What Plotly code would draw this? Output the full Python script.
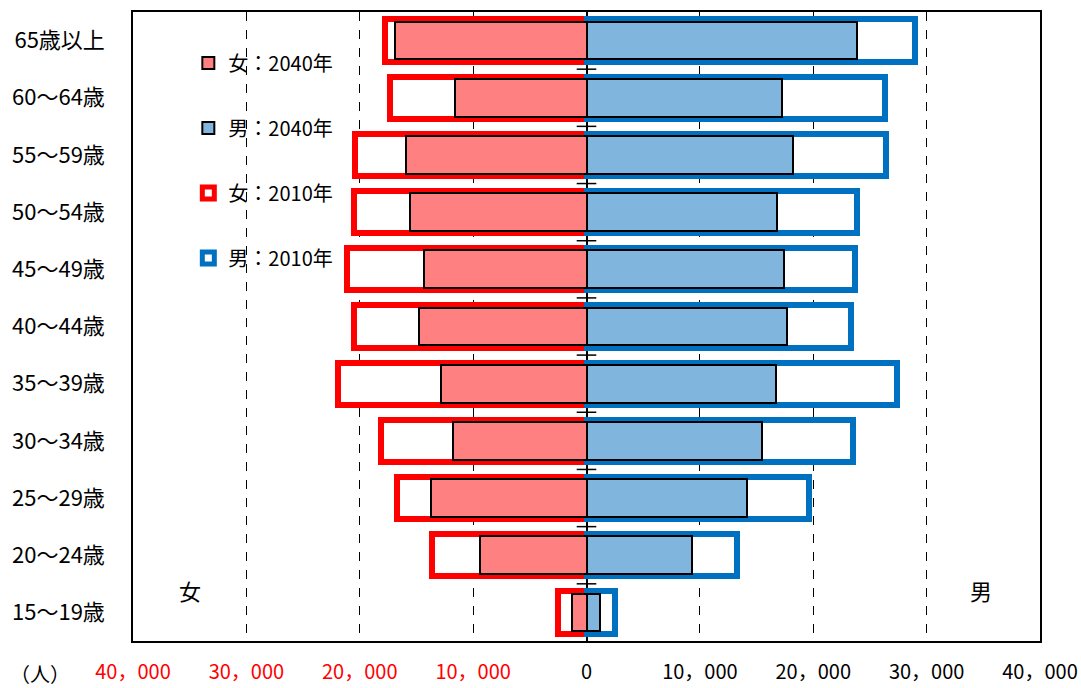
import plotly.graph_objects as go

ages = ["65歳以上", "60～64歳", "55～59歳", "50～54歳", "45～49歳", "40～44歳",
        "35～39歳", "30～34歳", "25～29歳", "20～24歳", "15～19歳"]
female_2010 = [17800, 17300, 20400, 20500, 21100, 20500, 21900, 18100, 16700, 13600, 2500]
female_2040 = [16900, 11600, 15900, 15600, 14300, 14800, 12800, 11800, 13700, 9400, 1300]
male_2010 = [29000, 26300, 26400, 23900, 23700, 23300, 27400, 23500, 19600, 13300, 2500]
male_2040 = [23900, 17200, 18200, 16800, 17400, 17700, 16700, 15500, 14200, 9300, 1200]
tick_vals = [-40000, -30000, -20000, -10000, 0, 10000, 20000, 30000, 40000]

ypos = list(range(len(ages)))
FONT = "Noto Sans CJK JP"

def fmt(v):
    s = f"{abs(v):,}".replace(",", "，")
    if v < 0:
        return f'<span style="color:#FF0000">{s}</span>'
    return s

fig = go.Figure()
fig.add_trace(go.Bar(y=ypos, x=[-v for v in female_2010], orientation="h", width=0.74,
                     marker=dict(color="white", line=dict(color="#FF0000", width=6)),
                     name="女：2010年", legendgroup="c", legendrank=3))
fig.add_trace(go.Bar(y=ypos, x=male_2010, orientation="h", width=0.74,
                     marker=dict(color="white", line=dict(color="#0070C0", width=6)),
                     name="男：2010年", legendgroup="d", legendrank=4))
fig.add_trace(go.Bar(y=ypos, x=[-v for v in female_2040], orientation="h", width=0.66,
                     marker=dict(color="#FF8080", line=dict(color="black", width=2)),
                     name="女：2040年", legendgroup="a", legendrank=1))
fig.add_trace(go.Bar(y=ypos, x=male_2040, orientation="h", width=0.66,
                     marker=dict(color="#80B6DE", line=dict(color="black", width=2)),
                     name="男：2040年", legendgroup="b", legendrank=2))

bounds = [i + 0.5 for i in ypos[:-1]]
fig.add_trace(go.Scatter(x=[0] * len(bounds), y=bounds, mode="markers",
                         marker=dict(symbol="line-ew-open", size=14, color="black",
                                     line=dict(color="black", width=1.5)),
                         showlegend=False, hoverinfo="skip"))

fig.update_layout(
    width=1081, height=688,
    margin=dict(l=133, r=41, t=12, b=47, autoexpand=False),
    barmode="overlay",
    plot_bgcolor="white", paper_bgcolor="white",
    font=dict(family=FONT, size=19, color="black"),
    showlegend=True,
    legend=dict(x=0.061, y=0.95, xanchor="left", yanchor="top", bgcolor="rgba(0,0,0,0)",
                font=dict(size=20), tracegroupgap=36, itemwidth=30),
    bargap=0,
)
fig.update_xaxes(range=[-40000, 40000], tickvals=tick_vals, ticktext=[fmt(v) for v in tick_vals],
                 showgrid=True, gridcolor="black", griddash="dash", gridwidth=1,
                 zeroline=True, zerolinecolor="black", zerolinewidth=1.5,
                 showline=True, linecolor="black", linewidth=1.5, mirror=True,
                 ticks="", tickfont=dict(size=20), ticklabelstandoff=12, fixedrange=True,
                 automargin=False)
fig.update_yaxes(range=[len(ages) - 0.5, -0.5], tickvals=ypos, ticktext=ages,
                 showgrid=False, zeroline=False,
                 showline=True, linecolor="black", linewidth=1.5, mirror=True,
                 ticks="", tickfont=dict(size=22), ticklabelstandoff=22, automargin=False)

fig.add_annotation(x=0.049, y=0.053, xref="paper", yref="paper", text="女", showarrow=False,
                   font=dict(size=22))
fig.add_annotation(x=0.949, y=0.053, xref="paper", yref="paper", text="男", showarrow=False,
                   font=dict(size=22))
fig.add_annotation(x=-0.103, y=-0.052, xref="paper", yref="paper", text="（人）", showarrow=False,
                   font=dict(size=20), xanchor="center", yanchor="middle")

fig.write_html("out.html")
